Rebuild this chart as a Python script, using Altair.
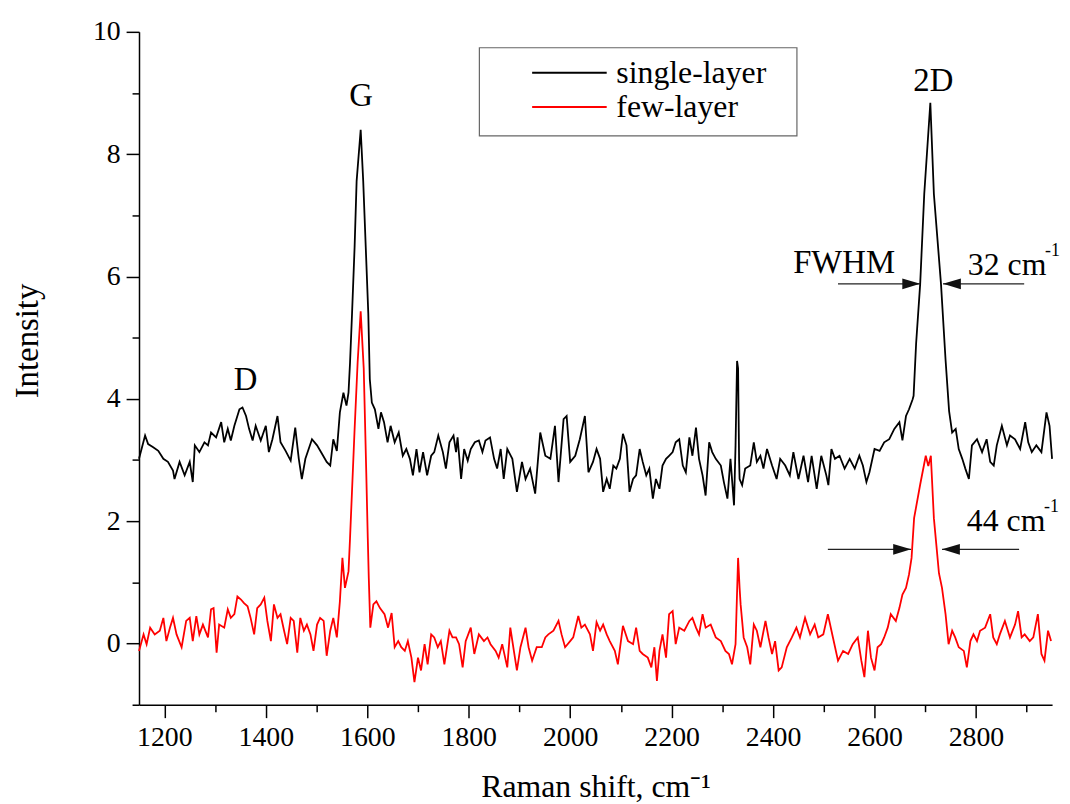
import altair as alt
import pandas as pd

# ---------------- data ----------------
single_x = [1150, 1162, 1168, 1178, 1188, 1198, 1207, 1217, 1220, 1230, 1240, 1250, 1256, 1260, 1269, 1279, 1286, 1292,
            1302, 1312, 1318, 1325, 1331, 1338, 1348, 1354, 1361, 1367, 1374, 1380, 1390, 1400, 1406, 1413, 1423, 1429,
            1439, 1449, 1458, 1465, 1471, 1478, 1491, 1501, 1511, 1520, 1527, 1533, 1540, 1546, 1553, 1559, 1563, 1566,
            1570, 1575, 1579, 1587, 1592, 1597, 1602, 1605, 1609, 1615, 1622, 1627, 1633, 1640, 1646, 1654, 1662, 1670,
            1677, 1684, 1690, 1697, 1703, 1710, 1718, 1726, 1732, 1740, 1749, 1755, 1762, 1770, 1775, 1778, 1785, 1791,
            1798, 1804, 1812, 1820, 1827, 1833, 1842, 1850, 1856, 1863, 1869, 1876, 1886, 1895, 1905, 1912, 1921, 1931,
            1941, 1951, 1961, 1970, 1977, 1987, 1993, 2000, 2010, 2019, 2029, 2036, 2045, 2052, 2059, 2065, 2072, 2078,
            2085, 2091, 2098, 2104, 2111, 2117, 2124, 2130, 2137, 2143, 2150, 2156, 2163, 2169, 2176, 2182, 2189, 2195,
            2202, 2208, 2215, 2222, 2228, 2235, 2241, 2248, 2254, 2261, 2267, 2274, 2280, 2287, 2297, 2303, 2310, 2316,
            2323, 2326, 2329, 2331, 2333, 2334, 2339, 2345, 2355, 2362, 2368, 2375, 2381, 2388, 2398, 2407, 2414, 2424,
            2433, 2440, 2450, 2460, 2469, 2476, 2486, 2495, 2505, 2509, 2515, 2522, 2531, 2541, 2551, 2561, 2570, 2577,
            2584, 2590, 2600, 2610, 2619, 2629, 2639, 2649, 2655, 2662, 2668, 2675, 2677, 2682, 2690, 2698, 2710, 2717,
            2731, 2740, 2747, 2753, 2760, 2766, 2773, 2779, 2786, 2792, 2802, 2812, 2821, 2828, 2835, 2841, 2851, 2861,
            2867, 2877, 2887, 2897, 2903, 2910, 2919, 2929, 2939, 2945, 2950]
single_y = [3.02, 3.40, 3.26, 3.21, 3.15, 3.02, 2.97, 2.83, 2.69, 2.97, 2.75, 2.97, 2.64, 3.24, 3.13, 3.29, 3.24, 3.45,
            3.37, 3.62, 3.29, 3.51, 3.32, 3.56, 3.83, 3.86, 3.72, 3.51, 3.32, 3.56, 3.32, 3.56, 3.13, 3.34, 3.72, 3.29,
            3.15, 2.99, 3.53, 3.02, 2.69, 3.02, 3.34, 3.24, 3.10, 2.97, 2.91, 3.34, 3.15, 3.78, 4.10, 3.89, 4.10, 4.59,
            5.40, 6.48, 7.56, 8.40, 7.56, 6.48, 5.40, 4.32, 3.94, 3.83, 3.51, 3.78, 3.62, 3.29, 3.56, 3.29, 3.45, 3.07,
            3.18, 3.02, 2.75, 3.18, 2.80, 3.13, 2.75, 3.07, 3.13, 3.40, 3.13, 2.86, 3.29, 3.40, 3.13, 3.37, 2.69, 3.18,
            2.99, 3.18, 3.29, 3.32, 3.13, 3.32, 3.37, 3.02, 2.86, 3.18, 2.69, 3.18, 3.02, 2.48, 2.97, 2.69, 2.86, 2.45,
            3.45, 3.07, 3.02, 3.56, 2.64, 3.67, 3.72, 2.97, 3.07, 3.34, 3.72, 2.80, 2.97, 3.18, 3.02, 2.48, 2.69, 2.53,
            2.91, 2.86, 3.02, 3.43, 3.24, 2.48, 2.69, 2.75, 3.18, 2.97, 2.75, 2.86, 2.37, 2.69, 2.53, 2.91, 3.02, 3.07,
            3.13, 3.29, 3.34, 2.91, 2.80, 3.37, 3.07, 3.53, 3.02, 2.75, 2.42, 3.29, 3.13, 3.02, 2.91, 2.64, 2.37, 3.02,
            2.26, 3.24, 4.62, 4.50, 3.00, 2.69, 2.59, 2.86, 2.91, 3.29, 2.97, 3.07, 2.86, 3.18, 2.91, 2.69, 3.02, 2.91,
            2.75, 3.13, 2.69, 3.07, 2.64, 3.07, 2.53, 3.07, 2.75, 2.59, 3.18, 3.02, 3.07, 2.86, 3.02, 2.86, 3.07, 2.91,
            2.64, 2.80, 3.18, 3.15, 3.29, 3.34, 3.51, 3.62, 3.32, 3.72, 3.83, 3.99, 4.05, 4.91, 5.88, 7.35, 8.84, 7.35,
            5.88, 4.64, 3.80, 3.45, 3.51, 3.18, 3.02, 2.86, 2.69, 3.24, 3.34, 3.13, 3.34, 2.97, 2.91, 3.24, 3.56, 3.24,
            3.40, 3.34, 3.18, 3.62, 3.29, 3.13, 3.24, 3.13, 3.78, 3.56, 3.02]

few_x = [1150, 1159, 1165, 1172, 1181, 1191, 1198, 1204, 1211, 1217, 1224, 1234, 1243, 1250, 1256, 1263, 1269, 1276,
         1286, 1292, 1297, 1303, 1308, 1318, 1325, 1331, 1338, 1344, 1351, 1357, 1364, 1370, 1377, 1383, 1390, 1397,
         1403, 1410, 1416, 1423, 1429, 1436, 1442, 1449, 1455, 1462, 1468, 1475, 1481, 1488, 1494, 1501, 1507, 1514,
         1520, 1527, 1533, 1540, 1546, 1551, 1556, 1563, 1566, 1575, 1581, 1587, 1593, 1598, 1601, 1603, 1606, 1612,
         1618, 1625, 1634, 1641, 1648, 1654, 1661, 1667, 1674, 1680, 1687, 1693, 1700, 1706, 1713, 1719, 1726, 1732,
         1739, 1745, 1752, 1762, 1768, 1775, 1781, 1788, 1794, 1804, 1811, 1820, 1830, 1837, 1843, 1853, 1859, 1866,
         1876, 1882, 1889, 1895, 1902, 1912, 1918, 1925, 1934, 1944, 1951, 1957, 1967, 1977, 1983, 1990, 2000, 2006,
         2016, 2022, 2029, 2039, 2045, 2052, 2059, 2065, 2072, 2078, 2088, 2094, 2104, 2114, 2124, 2130, 2137, 2143,
         2153, 2160, 2166, 2171, 2176, 2182, 2189, 2195, 2202, 2208, 2215, 2225, 2235, 2241, 2248, 2254, 2261, 2267,
         2277, 2287, 2297, 2306, 2313, 2319, 2326, 2331, 2334, 2336, 2342, 2349, 2355, 2362, 2368, 2375, 2385, 2391,
         2398, 2404, 2411, 2417, 2427, 2437, 2446, 2453, 2463, 2473, 2482, 2489, 2499, 2508, 2518, 2528, 2538, 2548,
         2557, 2567, 2574, 2580, 2587, 2593, 2600, 2606, 2613, 2619, 2626, 2632, 2642, 2649, 2655, 2662, 2668, 2673,
         2678, 2690, 2701, 2706, 2711, 2717, 2722, 2727, 2733, 2740, 2746, 2753, 2759, 2766, 2776, 2782, 2789, 2795,
         2802, 2808, 2818, 2828, 2834, 2841, 2847, 2857, 2867, 2877, 2883, 2890, 2896, 2906, 2913, 2922, 2929, 2935,
         2942, 2948]
few_y = [-0.12, 0.15, -0.01, 0.26, 0.15, 0.21, 0.42, 0.04, 0.26, 0.42, 0.15, -0.06, 0.37, 0.42, 0.04, 0.45, 0.15, 0.31,
         0.10, 0.56, 0.58, -0.15, 0.31, 0.26, 0.56, 0.42, 0.48, 0.77, 0.72, 0.66, 0.61, 0.42, 0.15, 0.58, 0.64, 0.75,
         0.37, 0.04, 0.64, 0.42, 0.48, 0.21, -0.01, 0.42, 0.37, -0.15, 0.42, 0.21, 0.31, 0.15, -0.12, 0.31, 0.42, 0.37,
         -0.20, 0.21, 0.42, 0.10, 0.69, 1.40, 0.91, 1.18, 1.72, 3.50, 4.60, 5.43, 4.50, 2.80, 1.72, 1.07, 0.26, 0.64,
         0.69, 0.58, 0.48, 0.26, 0.50, -0.06, 0.04, -0.06, -0.12, 0.04, -0.23, -0.63, -0.23, -0.44, -0.01, -0.34, 0.15, 0.10,
         -0.06, 0.04, -0.34, 0.21, 0.10, 0.10, -0.01, -0.39, 0.04, 0.26, -0.17, 0.15, 0.04, 0.10, -0.01, -0.12, -0.23, -0.01,
         -0.39, 0.26, -0.12, -0.44, -0.06, 0.26, -0.06, -0.28, -0.06, -0.06, 0.10, 0.15, 0.21, 0.37, 0.15, -0.06, 0.04, 0.10,
         0.45, 0.26, 0.31, 0.15, -0.12, 0.35, 0.21, 0.31, 0.15, 0.04, -0.12, -0.34, 0.29, 0.04, -0.01, 0.26, -0.12, -0.17,
         -0.23, -0.39, -0.06, -0.61, -0.12, 0.15, -0.23, 0.48, 0.53, -0.01, 0.26, 0.21, 0.37, 0.42, 0.26, 0.15, 0.48, 0.26,
         0.31, 0.10, 0.04, -0.12, -0.17, -0.34, -0.01, 1.40, 0.91, 0.64, 0.10, -0.06, -0.34, 0.31, 0.21, -0.06, 0.37, 0.10,
         -0.17, 0.04, -0.44, -0.39, -0.06, 0.10, 0.26, 0.10, 0.42, 0.15, 0.31, 0.10, 0.15, 0.48, 0.10, -0.28, -0.12, -0.17,
         -0.01, 0.10, -0.28, -0.55, 0.21, -0.23, -0.44, -0.06, -0.01, 0.10, 0.26, 0.48, 0.37, 0.58, 0.80, 0.91, 1.13, 1.40,
         2.05, 2.60, 3.07, 2.90, 3.07, 2.05, 1.60, 1.15, 0.91, 0.48, -0.01, 0.21, 0.10, -0.06, -0.12, -0.39, 0.04, 0.15,
         0.04, 0.21, 0.26, 0.48, 0.10, -0.01, 0.15, 0.37, 0.10, 0.31, 0.53, 0.10, 0.15, 0.04, 0.10, 0.48, -0.17, -0.28,
         0.21, 0.04]

series_names = ["single-layer", "few-layer"]
series_colors = ["#000000", "#ff0000"]

x_ticks = list(range(1200, 3000, 100))
y_ticks = list(range(-1, 11))

# peak labels
peak_text = ["D", "G", "2D", "FWHM"]
peak_x = [1360, 1588, 2716, 2540]
peak_y = [4.30, 8.95, 9.19, 6.22]

# width annotations
width_text = ["32 cm", "44 cm"]
width_x = [2784, 2782]
width_y = [6.19, 2.00]
sup_text = ["-1", "-1"]
sup_x = [2936, 2934]
sup_y = [6.42, 2.23]

# FWHM arrows (from, tip, y); direction: right-pointing or left-pointing
arrow_from = [2528, 2895, 2508, 2885]
arrow_tip = [2690, 2735, 2672, 2733]
arrow_y = [5.88, 5.88, 1.54, 1.54]
arrow_dir = ["right", "left", "right", "left"]

# legend box (in data coordinates of the plot)
legend_box_x = [1821, 2447]
legend_box_y = [8.30, 9.74]
legend_row_y = [9.33, 8.77]
legend_line_x = [1925, 2072]
legend_label_x = 2091

# ---------------- build chart ----------------
SERIF = "Liberation Serif"

rows = []
for name, xs, ys in [("single-layer", single_x, single_y), ("few-layer", few_x, few_y)]:
    for i, (a, b) in enumerate(zip(xs, ys)):
        rows.append({"shift": a, "intensity": b, "sample": name, "idx": i})
df = pd.DataFrame(rows)

x_scale = alt.Scale(domain=[1150, 2950], nice=False, zero=False)
y_scale = alt.Scale(domain=[-1, 10], nice=False, zero=False)
color_scale = alt.Scale(domain=series_names, range=series_colors)

x_axis = alt.Axis(
    values=x_ticks, format="d",
    labelExpr="datum.value % 200 === 0 ? datum.label : ''",
    tickSize={"condition": {"test": "datum.value % 200 === 0", "value": 13}, "value": 7},
    labelFontSize=28, labelPadding=6,
    title="Raman shift, cm\u207b\u00b9", titleFontSize=32,
    titleX=460, titleY=82, titleAlign="center", titleBaseline="middle",
)
y_axis = alt.Axis(
    values=y_ticks, format="d",
    labelExpr="datum.value % 2 === 0 ? datum.label : ''",
    tickSize={"condition": {"test": "datum.value % 2 === 0", "value": 13}, "value": 7},
    labelFontSize=28, labelPadding=6,
    title="Intensity", titleFontSize=33, titleAngle=270,
    titleX=-112, titleY=311, titleAlign="center", titleBaseline="middle",
)

X = lambda f: alt.X(f, scale=x_scale, axis=x_axis)
Y = lambda f: alt.Y(f, scale=y_scale, axis=y_axis)

lines = alt.Chart(df).mark_line(strokeWidth=1.8).encode(
    x=X("shift:Q"),
    y=Y("intensity:Q"),
    color=alt.Color("sample:N", scale=color_scale, legend=None),
    order="idx:Q",
)

# legend drawn with marks
box_df = pd.DataFrame({"x1": [legend_box_x[0]], "x2": [legend_box_x[1]],
                       "y1": [legend_box_y[0]], "y2": [legend_box_y[1]]})
legend_box = alt.Chart(box_df).mark_rect(fill="white", stroke="#666666", strokeWidth=1.2).encode(
    x=X("x1:Q"), x2="x2:Q", y=Y("y1:Q"), y2="y2:Q",
)
leg_df = pd.DataFrame({"sample": series_names, "y": legend_row_y,
                       "x1": [legend_line_x[0]] * 2, "x2": [legend_line_x[1]] * 2,
                       "lx": [legend_label_x] * 2})
legend_lines = alt.Chart(leg_df).mark_rule(strokeWidth=2).encode(
    x=X("x1:Q"), x2="x2:Q", y=Y("y:Q"),
    color=alt.Color("sample:N", scale=color_scale, legend=None),
)
legend_labels = alt.Chart(leg_df).mark_text(font=SERIF, fontSize=32, color="black", align="left",
                                            baseline="middle").encode(
    x=X("lx:Q"), y=Y("y:Q"), text="sample:N",
)

peak_df = pd.DataFrame({"x": peak_x, "y": peak_y, "t": peak_text})
peaks = alt.Chart(peak_df).mark_text(font=SERIF, fontSize=33, color="black", align="center", baseline="middle").encode(
    x=X("x:Q"), y=Y("y:Q"), text="t:N",
)

width_df = pd.DataFrame({"x": width_x, "y": width_y, "t": width_text})
widths = alt.Chart(width_df).mark_text(font=SERIF, fontSize=32, color="black", align="left", baseline="middle").encode(
    x=X("x:Q"), y=Y("y:Q"), text="t:N",
)

sup_df = pd.DataFrame({"x": sup_x, "y": sup_y, "t": sup_text})
sups = alt.Chart(sup_df).mark_text(font=SERIF, fontSize=18, color="black", align="left", baseline="middle").encode(
    x=X("x:Q"), y=Y("y:Q"), text="t:N",
)

arrow_df = pd.DataFrame({"x1": arrow_from, "x2": arrow_tip, "y": arrow_y, "dir": arrow_dir})
arrow_lines = alt.Chart(arrow_df).mark_rule(color="#222222", strokeWidth=1.3).encode(
    x=X("x1:Q"), x2="x2:Q", y=Y("y:Q"),
)

head_shift = 17.6  # half the arrow head length, in data units
right_df = arrow_df[arrow_df["dir"] == "right"].assign(hx=lambda d: d["x2"] - head_shift)
left_df = arrow_df[arrow_df["dir"] == "left"].assign(hx=lambda d: d["x2"] + head_shift)

heads_r = alt.Chart(right_df).mark_point(shape="M-1,-0.6L1,0L-1,0.6Z", filled=True, size=324,
                                          color="#111111", opacity=1).encode(x=X("hx:Q"), y=Y("y:Q"))
heads_l = alt.Chart(left_df).mark_point(shape="M1,-0.6L-1,0L1,0.6Z", filled=True, size=324,
                                         color="#111111", opacity=1).encode(x=X("hx:Q"), y=Y("y:Q"))

chart = alt.layer(lines, legend_box, legend_lines, legend_labels, arrow_lines, heads_r, heads_l,
                  peaks, widths, sups).properties(
    width=920, height=678,
    padding={"left": 132, "top": 21, "right": 10, "bottom": 97},
    autosize=alt.AutoSizeParams(type="none"),
).configure_view(strokeWidth=0).configure_axis(
    grid=False, domainColor="black", domainWidth=1.5, tickColor="black", tickWidth=1.5,
    labelFont=SERIF, labelColor="black", titleFont=SERIF, titleColor="black", titleFontWeight="normal",
)

chart.save("out.html", embed_options={"renderer": "svg", "actions": False})
